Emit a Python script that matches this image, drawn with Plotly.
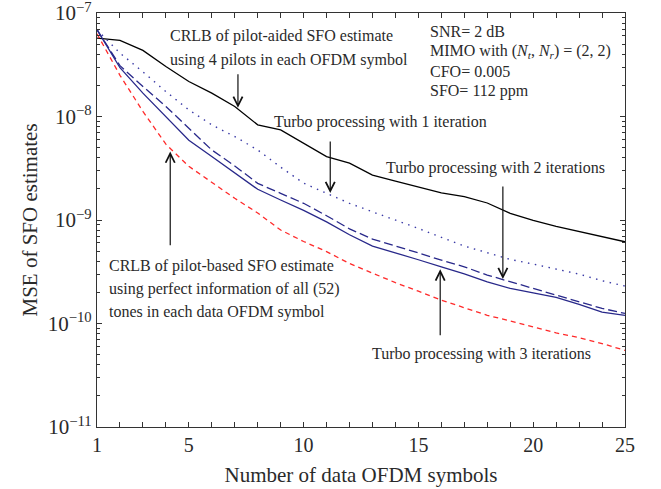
import plotly.graph_objects as go

# ---- data ----
symbols = list(range(1, 25))
x_tick_vals = [1, 5, 10, 15, 20, 24]
x_tick_text = ["1", "5", "10", "15", "20", "25"]

crlb_pilot_aided = [5.73e-8, 5.43e-8, 4.35e-8, 3.04e-8, 2.18e-8, 1.68e-8, 1.25e-8, 8.3e-9,
                    7.43e-9, 5.56e-9, 4.1e-9, 3.54e-9, 2.72e-9, 2.38e-9, 2.08e-9, 1.83e-9,
                    1.68e-9, 1.46e-9, 1.16e-9, 9.9e-10, 8.69e-10, 7.74e-10, 6.92e-10, 6.16e-10]
turbo_1 = [6.9e-8, 4.1e-8, 2.7e-8, 1.74e-8, 1.16e-8, 8.3e-9, 6.4e-9, 4.75e-9,
           3.24e-9, 2.27e-9, 1.81e-9, 1.45e-9, 1.2e-9, 1.0e-9, 8.3e-10, 6.8e-10,
           5.6e-10, 4.83e-10, 4.16e-10, 3.75e-10, 3.38e-10, 3.0e-10, 2.59e-10, 2.3e-10]
turbo_2 = [6.9e-8, 3.1e-8, 1.95e-8, 1.25e-8, 7.7e-9, 4.75e-9, 3.33e-9, 2.26e-9,
           1.81e-9, 1.45e-9, 1.1e-9, 8.2e-10, 6.55e-10, 5.64e-10, 4.8e-10, 4.1e-10,
           3.53e-10, 2.94e-10, 2.53e-10, 2.21e-10, 1.88e-10, 1.62e-10, 1.4e-10, 1.25e-10]
turbo_3 = [6.9e-8, 2.96e-8, 1.68e-8, 1.0e-8, 5.9e-9, 4.1e-9, 2.85e-9, 1.98e-9,
           1.56e-9, 1.24e-9, 9.6e-10, 7.2e-10, 5.6e-10, 4.83e-10, 4.13e-10, 3.53e-10,
           3.02e-10, 2.53e-10, 2.18e-10, 1.98e-10, 1.79e-10, 1.53e-10, 1.29e-10, 1.2e-10]
crlb_pilot_based = [6.3e-8, 2.5e-8, 1.12e-8, 5.4e-9, 3.3e-9, 2.3e-9, 1.62e-9, 1.17e-9,
                    8.0e-10, 6.2e-10, 4.95e-10, 3.8e-10, 3.05e-10, 2.48e-10, 2.05e-10, 1.68e-10,
                    1.42e-10, 1.2e-10, 1.06e-10, 9.3e-11, 8.1e-11, 7.3e-11, 6.4e-11, 5.5e-11]

y_tick_vals = [1e-11, 1e-10, 1e-9, 1e-8, 1e-7]
y_tick_text = ["10<sup>\u221211</sup>", "10<sup>\u221210</sup>", "10<sup>\u22129</sup>",
               "10<sup>\u22128</sup>", "10<sup>\u22127</sup>"]
y_minor_vals = [m * d for d in y_tick_vals[:-1] for m in range(2, 10)]

FONT = "Liberation Serif"
TXT = "#2a2a2a"
NAVY = "#28288a"

fig = go.Figure()
fig.add_trace(go.Scatter(x=symbols, y=crlb_pilot_aided, mode="lines",
                         line=dict(color="black", width=1.3)))
fig.add_trace(go.Scatter(x=symbols, y=turbo_1, mode="lines",
                         line=dict(color="#3a3aa6", width=1.4, dash="1.5px,5.5px")))
fig.add_trace(go.Scatter(x=symbols, y=turbo_2, mode="lines",
                         line=dict(color=NAVY, width=1.3, dash="9px,4px")))
fig.add_trace(go.Scatter(x=symbols, y=turbo_3, mode="lines",
                         line=dict(color=NAVY, width=1.3)))
fig.add_trace(go.Scatter(x=symbols, y=crlb_pilot_based, mode="lines",
                         line=dict(color="#ff2a2a", width=1.3, dash="5px,4px")))

anns = []
def txt(x, y, s):
    anns.append(dict(x=x, y=y, xref="x", yref="y", text=s, showarrow=False,
                     xanchor="left", yanchor="middle",
                     font=dict(family=FONT, size=16, color=TXT)))

def arrow(x, y_tip, y_tail):
    anns.append(dict(x=x, y=y_tip, ax=x, ay=y_tail, xref="x", yref="y",
                     axref="x", ayref="y", text="", showarrow=True,
                     arrowhead=5, arrowsize=1.5, arrowwidth=1.2, arrowcolor="#111"))

txt(4.10, -7.226, "CRLB of pilot-aided SFO estimate")
txt(4.10, -7.452, "using 4 pilots in each OFDM symbol")
txt(15.42, -7.178, "SNR= 2 dB")
txt(15.42, -7.372, "MIMO with (<i>N<sub>t</sub></i>, <i>N<sub>r</sub></i>) = (2, 2)")
txt(15.42, -7.565, "CFO= 0.005")
txt(15.42, -7.749, "SFO= 112 ppm")
txt(8.64, -8.052, "Turbo processing with 1 iteration")
txt(13.49, -8.50, "Turbo processing with 2 iterations")
txt(12.88, -10.29, "Turbo processing with 3 iterations")
txt(1.42, -9.445, "CRLB of pilot-based SFO estimate")
txt(1.42, -9.671, "using perfect information of all (52)")
txt(1.42, -9.887, "tones in each data OFDM symbol")

arrow(7.14, -7.916, -7.578)
arrow(11.16, -8.739, -8.226)
arrow(18.68, -9.571, -8.661)
arrow(4.19, -8.339, -9.258)
arrow(15.95, -9.477, -10.129)

AX = "#333"
fig.update_layout(
    width=661, height=489,
    margin=dict(l=97, r=36, t=13, b=62, autoexpand=False),
    paper_bgcolor="white", plot_bgcolor="white",
    showlegend=False,
    annotations=anns,
    font=dict(family=FONT, color=TXT),
    xaxis=dict(range=[1, 24], tickmode="array", tickvals=x_tick_vals, ticktext=x_tick_text,
               automargin=False,
               ticks="inside", ticklen=5, tickwidth=1, tickcolor=AX,
               minor=dict(tick0=1, dtick=1, ticks="inside", ticklen=5, tickwidth=1,
                          tickcolor=AX, showgrid=False),
               showline=True, linecolor=AX, linewidth=1.3, mirror="ticks",
               showgrid=False, zeroline=False,
               tickfont=dict(family=FONT, size=20, color=TXT),
               title=dict(text="Number of data OFDM symbols", standoff=12,
                          font=dict(family=FONT, size=21, color=TXT))),
    yaxis=dict(type="log", range=[-11, -7], tickmode="array",
               tickvals=y_tick_vals, ticktext=y_tick_text, ticklabeloverflow="allow",
               automargin=False,
               ticks="inside", ticklen=5, tickwidth=1, tickcolor=AX,
               minor=dict(tickmode="array", tickvals=y_minor_vals, ticks="inside",
                          ticklen=3, tickwidth=1, tickcolor=AX, showgrid=False),
               showline=True, linecolor=AX, linewidth=1.3, mirror="ticks",
               showgrid=False, zeroline=False,
               tickfont=dict(family=FONT, size=21, color=TXT),
               title=dict(text="MSE of SFO estimates", standoff=4,
                          font=dict(family=FONT, size=21, color=TXT))),
)

fig.write_html("out.html")
